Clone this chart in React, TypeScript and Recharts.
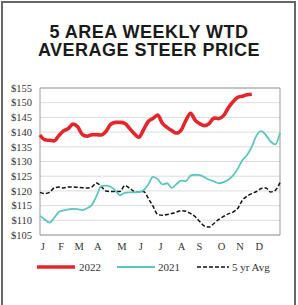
import { LineChart, Line, XAxis, YAxis, CartesianGrid, ReferenceArea } from 'recharts';

// weekly prices, week 0..51
const WEEKS = Array.from({ length: 52 }, (_, i) => i);

const PRICE_2022 = [
  139, 137.4, 137.2, 137, 138.8, 140.4, 141.2, 142.7, 141.8, 139.2,
  138.6, 139.1, 139.1, 139.0, 140.2, 142.6, 143.3, 143.3, 143, 141.3,
  139.5, 138.2, 140.8, 143.6, 144.6, 145.8, 143, 141.6, 140.5, 139.7,
  140.7, 144, 146.4, 144, 142.8, 142.2, 143, 144.8, 144.6, 145.6,
  148.2, 150.3, 151.8, 152.2, 152.7, 152.9,
];

const PRICE_2021 = [
  111.5, 110.3, 109.2, 110.8, 112.8, 113.4, 113.7, 113.9, 113.8, 113.5,
  114.1, 115.2, 118.2, 121.6, 121.8, 121.4, 120.2, 118.5, 119.3, 119.5,
  119.5, 119.6, 120.2, 122.2, 124.8, 124, 122.2, 122.6, 121, 122.3,
  123.5, 123.3, 125.2, 125.5, 125.4, 124.6, 123.8, 123.2, 122.6, 123,
  123.8, 125.2, 127.5, 130.4, 132.2, 135, 138.8, 140.3, 139, 136.8,
  135.8, 139.8,
];

const AVG_5YR = [
  119.5, 119.1, 119.5, 121, 121.3, 121, 121.3, 121.3, 121.2, 121.1,
  121, 121.3, 122.7, 121.5, 120, 119.8, 119.8, 119.8, 121.8, 121,
  119.8, 119.5, 119.8, 117.5, 114.8, 112, 111.7, 112, 112.3, 112.8,
  113.3, 113.1, 112.3, 111.2, 109.5, 108, 107.7, 109, 110.3, 111.3,
  112.2, 112.8, 114, 116.8, 118.2, 119.1, 119.8, 120.8, 121, 119.6,
  120.2, 122.8,
];

const MONTHS = ['J', 'F', 'M', 'A', 'M', 'J', 'J', 'A', 'S', 'O', 'N', 'D'];
const MONTH_WEEKS = [0.6, 4.5, 8.3, 12.3, 17.4, 21.4, 25.6, 30.1, 33.9, 38.6, 42.5, 46.6];
const Y_TICKS = [105, 110, 115, 120, 125, 130, 135, 140, 145, 150, 155];
const TITLE_LINES = ['5 AREA WEEKLY WTD', 'AVERAGE STEER PRICE'];

const RED = '#e3262b';
const TEAL = '#5cc6bd';
const BLACK = '#111';

const data = WEEKS.map((w) => ({
  week: w,
  y2022: PRICE_2022[w],
  y2021: PRICE_2021[w],
  avg: AVG_5YR[w],
}));

const TICK_STYLE = { fill: '#333', fontSize: 10.5, fontFamily: '"Liberation Serif", serif' };

export default function App() {
  return (
    <div style={{ position: 'relative', width: 298, height: 305, background: '#fff' }}>
      <style>{'body{margin:0}'}</style>
      <div
        style={{
          position: 'absolute',
          left: 1,
          top: 1,
          width: 291,
          height: 320,
          borderLeft: '2px solid #666',
          borderTop: '2px solid #666',
          borderRight: '2px solid #666',
        }}
      />
      {TITLE_LINES.map((t, i) => (
        <div
          key={t}
          style={{
            position: 'absolute',
            top: 23 + i * 18,
            left: 0,
            width: 298,
            height: 18,
            textAlign: 'center',
            fontFamily: '"Liberation Sans", Arial, sans-serif',
            fontWeight: 700,
            fontSize: 18,
            letterSpacing: 0.5,
            lineHeight: '18px',
            color: '#1a1a1a',
          }}
        >
          {t}
        </div>
      ))}
      <div style={{ position: 'absolute', left: 0, top: 80 }}>
        <LineChart width={298} height={175} data={data} margin={{ top: 8, right: 18, bottom: 0, left: 0 }}>
          <CartesianGrid stroke="#dcdcdc" vertical={false} />
          <XAxis
            dataKey="week"
            type="number"
            domain={[0, 51]}
            ticks={MONTH_WEEKS}
            tickFormatter={(v: number) => MONTHS[MONTH_WEEKS.indexOf(v)]}
            tick={TICK_STYLE}
            axisLine={false}
            tickLine={false}
            height={20}
            interval={0}
          />
          <YAxis
            domain={[105, 155]}
            ticks={Y_TICKS}
            tickFormatter={(v: number) => `$${v}`}
            tick={TICK_STYLE}
            axisLine={false}
            tickLine={false}
            width={40}
            interval={0}
          />
          <ReferenceArea x1={0} x2={51} y1={105} y2={155} fill="none" stroke="#999" strokeWidth={1} />
          <Line type="monotone" dataKey="avg" stroke={BLACK} strokeWidth={1.5} strokeDasharray="4 2" dot={false} isAnimationActive={false} />
          <Line type="monotone" dataKey="y2021" stroke={TEAL} strokeWidth={1.8} dot={false} isAnimationActive={false} />
          <Line type="monotone" dataKey="y2022" stroke={RED} strokeWidth={3.6} dot={false} isAnimationActive={false} />
        </LineChart>
      </div>
      <svg width={298} height={20} style={{ position: 'absolute', left: 0, top: 257 }}>
        <g style={{ fontFamily: '"Liberation Serif", serif', fontSize: 11 }} fill="#333">
          <line x1={37} x2={75} y1={10} y2={10} stroke={RED} strokeWidth={3.6} />
          <text x={79} y={14}>2022</text>
          <line x1={117} x2={155} y1={10} y2={10} stroke={TEAL} strokeWidth={1.8} />
          <text x={158} y={14}>2021</text>
          <line x1={197} x2={229} y1={10} y2={10} stroke={BLACK} strokeWidth={1.5} strokeDasharray="4 2" />
          <text x={232} y={14}>5 yr Avg</text>
        </g>
      </svg>
    </div>
  );
}
